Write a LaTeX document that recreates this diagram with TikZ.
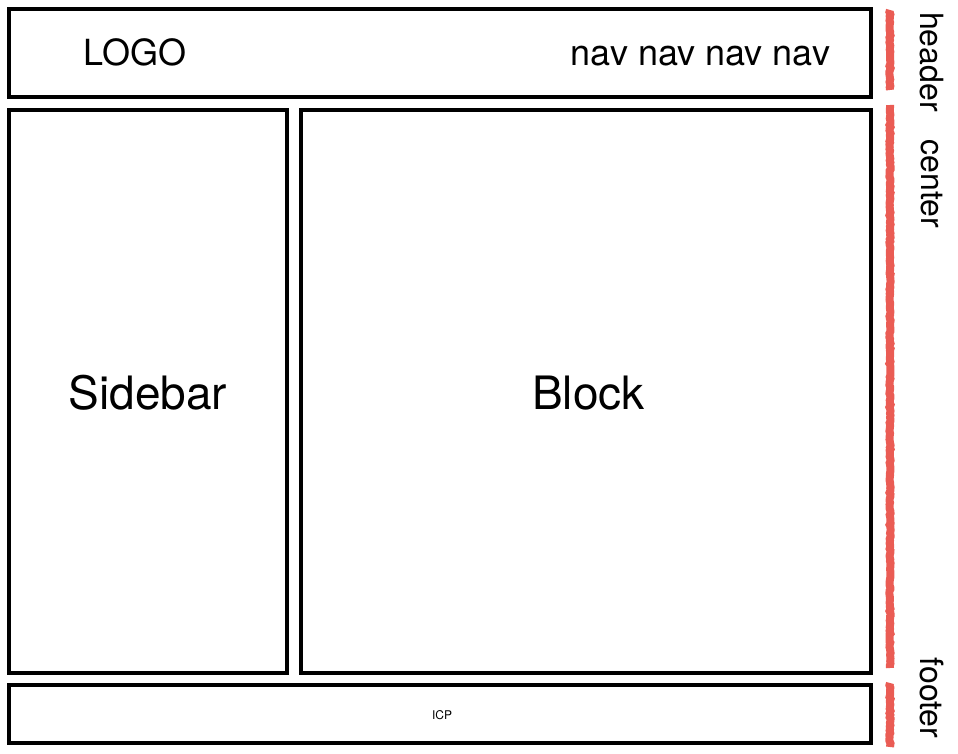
\documentclass[tikz,border=0pt]{standalone}
\usepackage{fontspec}
\setmainfont{TeX Gyre Heros}
\usetikzlibrary{decorations.pathmorphing}
\definecolor{brush}{RGB}{234,92,84}
\begin{document}
\begin{tikzpicture}[x=1pt,y=-1pt,
  box/.style={draw=black, line width=4pt, inner sep=0pt, outer sep=0pt},
  bigtext/.style={font=\fontsize{46}{54}\selectfont, anchor=base},
  midtext/.style={font=\fontsize{36}{42}\selectfont, anchor=base},
  sidelabel/.style={font=\fontsize{32}{36}\selectfont, rotate=-90},
  bar/.style={draw=brush, line width=8pt, decorate, decoration={random steps, segment length=2pt, amplitude=0.6pt}}]
\useasboundingbox (0,0) rectangle (958,754);
% boxes
\node[box, minimum width=862pt, minimum height=88pt] (header) at (440,53) {};
\node[box, minimum width=278pt, minimum height=563pt] (sidebar) at (148,391.5) {};
\node[box, minimum width=570pt, minimum height=563pt] (block) at (586,391.5) {};
\node[box, minimum width=862pt, minimum height=58pt] (footer) at (440,714) {};
% texts
\node[midtext] (logo) at (135,66) {LOGO};
\node[midtext] (nav) at (700.5,66) {nav nav nav nav};
\node[bigtext] (sidebartext) at (148,409) {Sidebar};
\node[bigtext] (blocktext) at (588.5,409) {Block};
\node[font=\fontsize{12}{14}\selectfont] (icp) at (442,715) {ICP};
% red marker bars
\coordinate (h1) at (890,10);
\coordinate (h2) at (890,90);
\coordinate (c1) at (890,105);
\coordinate (c2) at (890,668);
\coordinate (f1) at (890,683);
\coordinate (f2) at (890,747);
\draw[bar] (h1) -- (h2);
\draw[bar] (c1) -- (c2);
\draw[bar] (f1) -- (f2);
% side labels
\node[sidelabel] (lheader) at (932,62) {header};
\node[sidelabel] (lcenter) at (932,184) {center};
\node[sidelabel] (lfooter) at (932,698) {footer};
\end{tikzpicture}
\end{document}
